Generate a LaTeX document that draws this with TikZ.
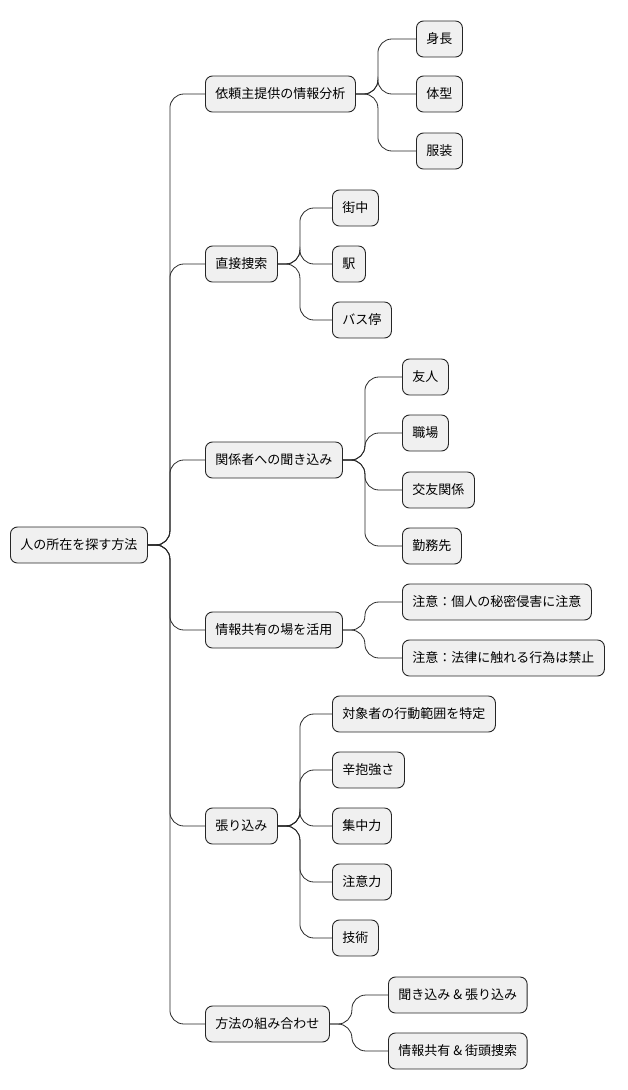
\documentclass[tikz,border=0pt]{standalone}
\usepackage{fontspec}
\setmainfont{Noto Sans CJK JP}
\usepackage{tikz}

\begin{document}
\begin{tikzpicture}[x=1pt,y=-1pt,
  every node/.style={draw=black!85, fill=black!6, rounded corners=7pt, anchor=west,
    minimum height=36pt, inner xsep=10pt, line width=0.9pt, font=\fontsize{13}{15}\selectfont},
  link/.style={draw=black!85, line width=0.8pt, rounded corners=14pt}]
\useasboundingbox (0,0) rectangle (628,1090);

\node (root) at (10,545) {人の所在を探す方法};

\node (info) at (205,94) {依頼主提供の情報分析};
\node (search) at (205,264) {直接捜索};
\node (ask) at (205,460) {関係者への聞き込み};
\node (share) at (205,630) {情報共有の場を活用};
\node (watch) at (205,826) {張り込み};
\node (combo) at (205,1024) {方法の組み合わせ};

\node (height) at (416,39) {身長};
\node (body) at (416,94) {体型};
\node (cloth) at (416,151) {服装};

\node (street) at (332,208) {街中};
\node (station) at (332,264) {駅};
\node (bus) at (332,320) {バス停};

\node (friend) at (402,377) {友人};
\node (work) at (402,433) {職場};
\node (circle) at (402,490) {交友関係};
\node (office) at (402,546) {勤務先};

\node (secret) at (402,602) {注意：個人の秘密侵害に注意};
\node (law) at (402,658) {注意：法律に触れる行為は禁止};

\node (range) at (332,714) {対象者の行動範囲を特定};
\node (patience) at (332,770) {辛抱強さ};
\node (focus) at (332,826) {集中力};
\node (care) at (332,882) {注意力};
\node (skill) at (332,938) {技術};

\node (mixa) at (388,995) {聞き込み \& 張り込み};
\node (mixb) at (388,1051) {情報共有 \& 街頭捜索};

\draw[link] (root.east) -- ++(22,0) |- (info.west);
\draw[link] (root.east) -- ++(22,0) |- (search.west);
\draw[link] (root.east) -- ++(22,0) |- (ask.west);
\draw[link] (root.east) -- ++(22,0) |- (share.west);
\draw[link] (root.east) -- ++(22,0) |- (watch.west);
\draw[link] (root.east) -- ++(22,0) |- (combo.west);

\draw[link] (info.east) -- ++(22,0) |- (height.west);
\draw[link] (info.east) -- ++(22,0) |- (body.west);
\draw[link] (info.east) -- ++(22,0) |- (cloth.west);

\draw[link] (search.east) -- ++(22,0) |- (street.west);
\draw[link] (search.east) -- ++(22,0) |- (station.west);
\draw[link] (search.east) -- ++(22,0) |- (bus.west);

\draw[link] (ask.east) -- ++(22,0) |- (friend.west);
\draw[link] (ask.east) -- ++(22,0) |- (work.west);
\draw[link] (ask.east) -- ++(22,0) |- (circle.west);
\draw[link] (ask.east) -- ++(22,0) |- (office.west);

\draw[link] (share.east) -- ++(22,0) |- (secret.west);
\draw[link] (share.east) -- ++(22,0) |- (law.west);

\draw[link] (watch.east) -- ++(22,0) |- (range.west);
\draw[link] (watch.east) -- ++(22,0) |- (patience.west);
\draw[link] (watch.east) -- ++(22,0) |- (focus.west);
\draw[link] (watch.east) -- ++(22,0) |- (care.west);
\draw[link] (watch.east) -- ++(22,0) |- (skill.west);

\draw[link] (combo.east) -- ++(22,0) |- (mixa.west);
\draw[link] (combo.east) -- ++(22,0) |- (mixb.west);
\end{tikzpicture}
\end{document}
